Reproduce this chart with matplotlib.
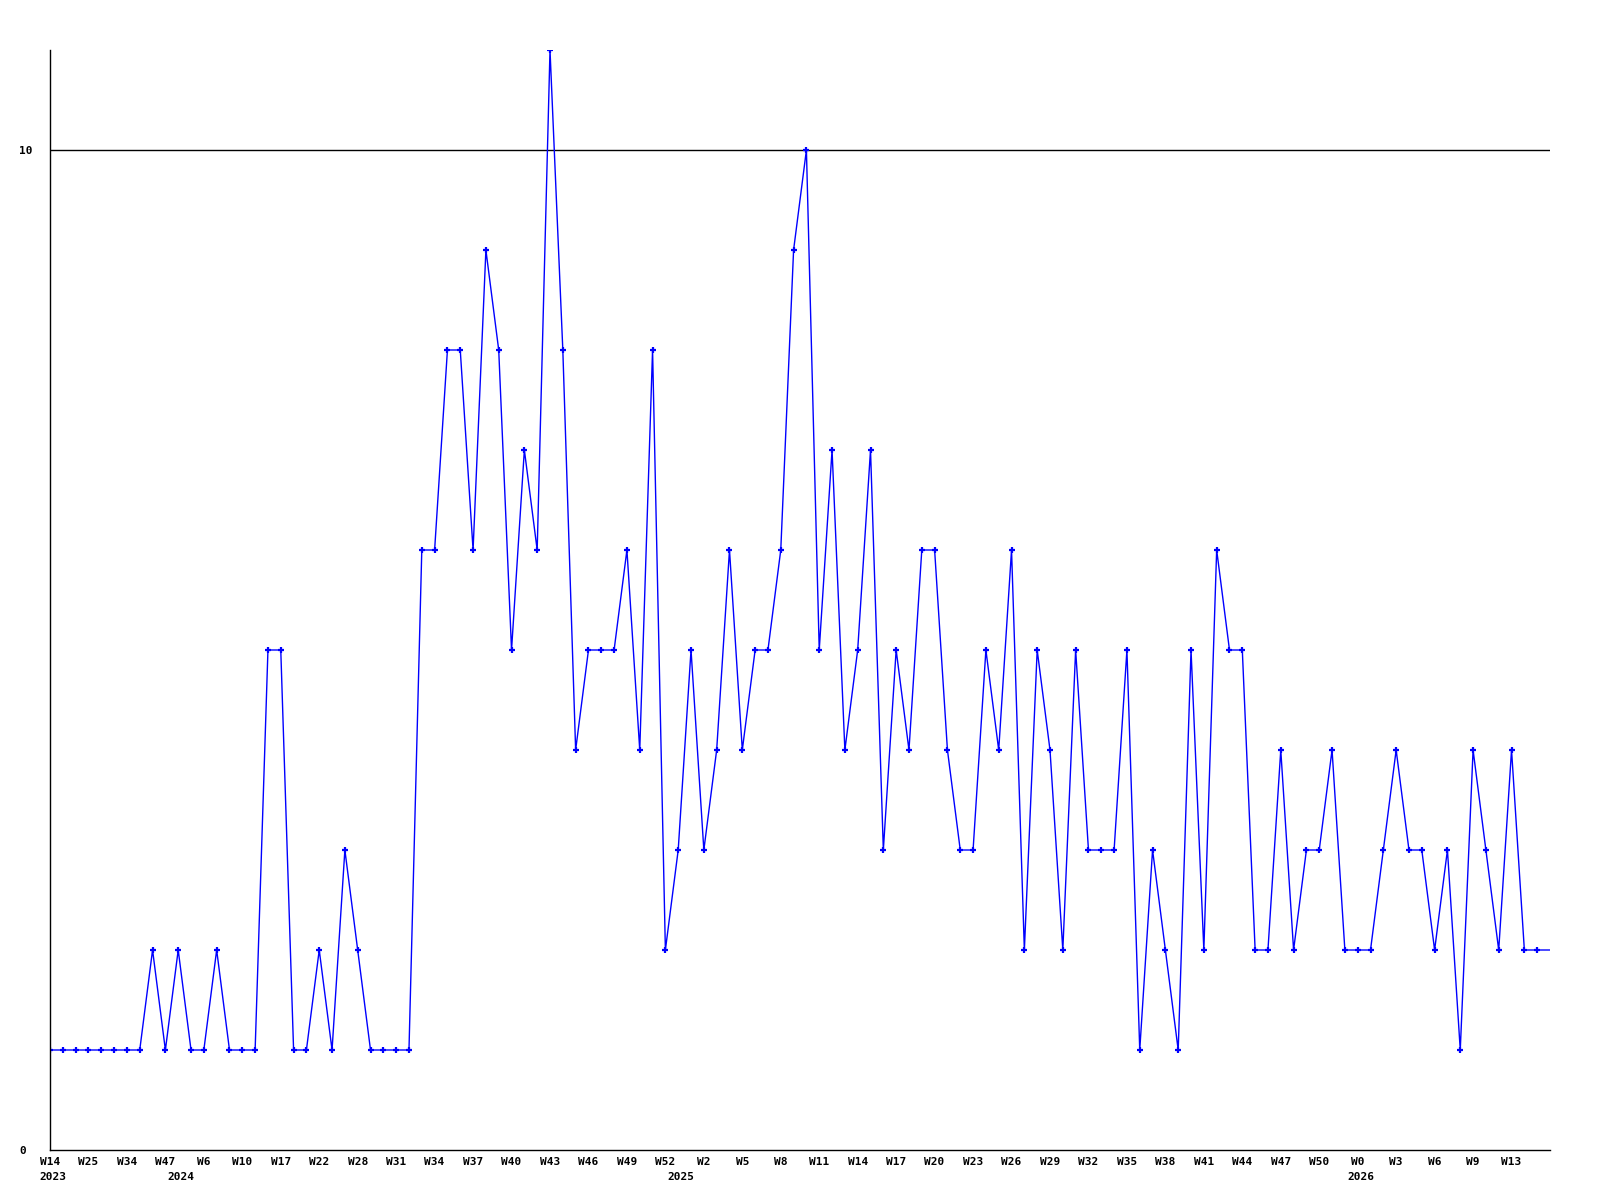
import matplotlib
matplotlib.use("Agg")
import matplotlib.pyplot as plt
import matplotlib.transforms as mtransforms

# weekly counts (last value is the running week, drawn without a marker)
values = [1, 1, 1, 1, 1, 1, 1, 1, 2, 1, 2, 1, 1, 2, 1, 1, 1, 5, 5, 1,
          1, 2, 1, 3, 2, 1, 1, 1, 1, 6, 6, 8, 8, 6, 9, 8, 5, 7, 6, 11,
          8, 4, 5, 5, 5, 6, 4, 8, 2, 3, 5, 3, 4, 6, 4, 5, 5, 6, 9, 10,
          5, 7, 4, 5, 7, 3, 5, 4, 6, 6, 4, 3, 3, 5, 4, 6, 2, 5, 4, 2,
          5, 3, 3, 3, 5, 1, 3, 2, 1, 5, 2, 6, 5, 5, 2, 2, 4, 2, 3, 3,
          4, 2, 2, 2, 3, 4, 3, 3, 2, 3, 1, 4, 3, 2, 4, 2, 2, 2]

week_labels = ["W14", "W25", "W34", "W47", "W6", "W10", "W17", "W22", "W28",
               "W31", "W34", "W37", "W40", "W43", "W46", "W49", "W52", "W2",
               "W5", "W8", "W11", "W14", "W17", "W20", "W23", "W26", "W29",
               "W32", "W35", "W38", "W41", "W44", "W47", "W50", "W0", "W3",
               "W6", "W9", "W13"]
label_step = 3

years = ["2023", "2024", "2025", "2026"]
year_pos = [0, 10, 49, 102]

y_ticks = [0, 10]

mono = "DejaVu Sans Mono"

fig = plt.figure(figsize=(16, 12), dpi=100)
ax = fig.add_axes([50 / 1600, 50 / 1200, 1500 / 1600, 1100 / 1200])

x = list(range(len(values)))
ax.plot(x, values, color="#0000ff", lw=1.0, marker="+", ms=4.5, mew=1.6,
        markevery=list(range(len(values) - 1)))

ax.set_xlim(0, len(values) - 1)
ax.set_ylim(0, 11)

# reference line at 10
ax.axhline(10, color="black", lw=1.0, zorder=0)

for side in ("top", "right"):
    ax.spines[side].set_visible(False)
for side in ("left", "bottom"):
    ax.spines[side].set_color("black")
    ax.spines[side].set_linewidth(1.0)

ax.set_yticks(y_ticks)
ax.set_yticklabels([str(v) for v in y_ticks], fontfamily=mono,
                   fontweight="bold", fontsize=8, ha="left")
ax.tick_params(axis="y", length=0, pad=22)

ax.set_xticks(list(range(0, label_step * len(week_labels), label_step)))
ax.set_xticklabels(week_labels, fontfamily=mono, fontweight="bold", fontsize=8)
ax.tick_params(axis="x", length=0, pad=5)

# year captions sit a few pixels right of their week
trans = mtransforms.blended_transform_factory(ax.transData, ax.transAxes)
trans = trans + mtransforms.ScaledTranslation(3 / 100, 0, fig.dpi_scale_trans)
for yr, pos in zip(years, year_pos):
    ax.text(pos, -27 / 1100, yr, transform=trans, ha="center", va="center",
            fontfamily=mono, fontweight="bold", fontsize=8)

fig.savefig("out.png", dpi=100, facecolor="white")
plt.close(fig)
